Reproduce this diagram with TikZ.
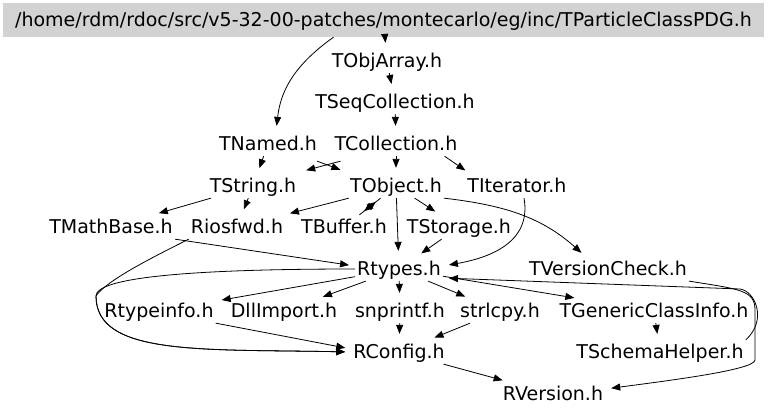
\documentclass[tikz,border=0pt]{standalone}
\usepackage{fontspec}
\setmainfont{DejaVu Sans}
\usetikzlibrary{arrows.meta}

\begin{document}
\begin{tikzpicture}[
    x=1pt, y=-1pt,
    file/.style={inner xsep=2pt, inner ysep=5pt, text height=13.9pt, text depth=0pt, font=\fontsize{19}{22}\selectfont},
    mainfile/.style={file, fill=gray!35, minimum width=761pt, minimum height=34pt},
    arrow/.style={-{Triangle[length=9pt,width=7pt]}, line width=0.8pt, shorten >=6pt}
]
\useasboundingbox (0,0) rectangle (768,415);

\node[mainfile] (header) at (383.5,20) {/home/rdm/rdoc/src/v5-32-00-patches/montecarlo/eg/inc/TParticleClassPDG.h};
\node[file] (objarray) at (387,61) {TObjArray.h};
\node[file] (seqcoll) at (395,102) {TSeqCollection.h};
\node[file] (named) at (268,144) {TNamed.h};
\node[file] (collection) at (396,144) {TCollection.h};
\node[file] (string) at (253,186) {TString.h};
\node[file] (object) at (396,186) {TObject.h};
\node[file] (iterator) at (517,186) {TIterator.h};
\node[file] (mathbase) at (111,227) {TMathBase.h};
\node[file] (riosfwd) at (237,227) {Riosfwd.h};
\node[file] (buffer) at (344,227) {TBuffer.h};
\node[file] (storage) at (459,227) {TStorage.h};
\node[file] (rtypes) at (399,269) {Rtypes.h};
\node[file] (versioncheck) at (608,269) {TVersionCheck.h};
\node[file] (rtypeinfo) at (159,311) {Rtypeinfo.h};
\node[file] (dllimport) at (284,311) {DllImport.h};
\node[file] (snprintf) at (400,311) {snprintf.h};
\node[file] (strlcpy) at (500,311) {strlcpy.h};
\node[file] (genericinfo) at (654,311) {TGenericClassInfo.h};
\node[file] (rconfig) at (399,352) {RConfig.h};
\node[file] (schemahelper) at (660,352) {TSchemaHelper.h};
\node[file] (rversion) at (553,394) {RVersion.h};

\draw[arrow] ([xshift=-50pt]header.south) .. controls +(-35,25) and +(5,-45) .. ([xshift=8pt]named.north);
\draw[arrow] (header) -- (objarray);
\draw[arrow] (objarray) -- (seqcoll);
\draw[arrow] (seqcoll) -- (collection);
\draw[arrow] (collection) -- (object);
\draw[arrow] ([xshift=-15pt]collection.south east) -- ([xshift=5pt]iterator.north west);
\draw[arrow] ([shift={(8,5)}]collection.south west) -- ([shift={(2,-2)}]string.north east);
\draw[arrow] (named) -- (string);
\draw[arrow] ([shift={(-2,5)}]named.south east) -- ([shift={(-2,-2)}]object.north west);
\draw[arrow] (string) -- (mathbase);
\draw[arrow] (string) -- (riosfwd);
\draw[arrow] (object) -- (riosfwd);
\draw[arrow] (object) -- (buffer);
\draw[arrow] (buffer) -- (object);
\draw[arrow] (object) -- (storage);
\draw[arrow] (object) -- (rtypes);
\draw[arrow] (object.south east) .. controls +(60,7) and +(-45,-40) .. ([xshift=-22pt]versioncheck.north);
\draw[arrow] ([xshift=7pt]iterator.south) .. controls +(8,45) and +(45,-8) .. ([yshift=3pt]rtypes.east);
\draw[arrow] (storage) -- (rtypes);
\draw[arrow] (mathbase.south east) -- ([yshift=3pt]rtypes.west);
\draw[arrow] (riosfwd.south west) .. controls +(-40,20) and +(10,-15) .. (96,296)
    .. controls +(0,60) and +(-150,-3) .. (rconfig.west);
\draw[arrow] (rtypes.west) .. controls +(-170,0) and +(0,-18) .. (96,296)
    .. controls +(0,60) and +(-150,-3) .. (rconfig.west);
\draw[arrow] (rtypes) -- (rtypeinfo);
\draw[arrow] (rtypes) -- (dllimport);
\draw[arrow] (rtypes) -- (snprintf);
\draw[arrow] (rtypes) -- (strlcpy);
\draw[arrow] (rtypes) -- (genericinfo);
\draw[arrow] (schemahelper.north east) .. controls +(22,-20) and +(15,2) .. (740,289) -- ([yshift=-9pt]rtypes.east);
\draw[arrow] (versioncheck.south east) .. controls +(50,8) and +(0,-20) .. (755,310) -- (755,360)
    .. controls +(0,10) and +(60,-8) .. ([yshift=5pt]rversion.east);
\draw[arrow] (genericinfo) -- (schemahelper);
\draw[arrow] (snprintf) -- (rconfig);
\draw[arrow] (strlcpy) -- (rconfig);
\draw[arrow] (rtypeinfo.south east) -- ([yshift=3pt]rconfig.west);
\draw[arrow] (rconfig) -- (rversion);

\end{tikzpicture}
\end{document}
